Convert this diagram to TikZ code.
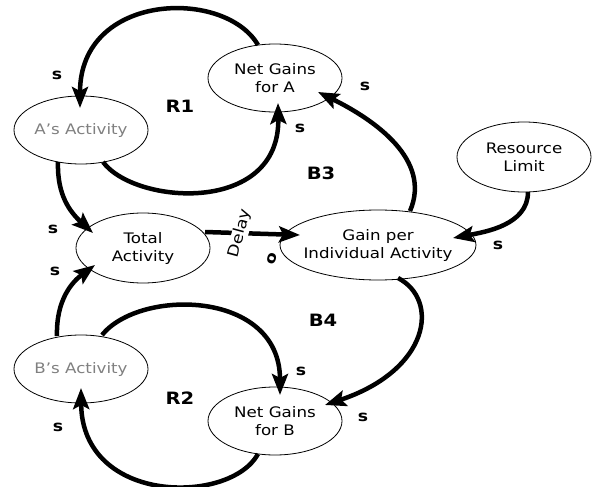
\documentclass[tikz,border=0pt]{standalone}
\usepackage{fontspec}
\setmainfont{DejaVu Sans}[FakeStretch=1.15]
\usetikzlibrary{shapes.geometric,arrows.meta,calc}
\tikzset{
  var/.style={ellipse,draw=black,line width=0.8pt,minimum width=134pt,minimum height=68pt,inner xsep=-20pt,inner ysep=0pt,align=center,font=\fontsize{14.5}{18}\selectfont},
  grayvar/.style={var,text=black!50},
  link/.style={line width=4.5pt,-{Stealth[length=21pt,width=16pt,inset=4pt]}},
  pol/.style={font=\fontsize{15}{17}\selectfont\bfseries},
  loopname/.style={font=\fontsize{17}{20}\selectfont\bfseries}
}
\begin{document}
\begin{tikzpicture}[x=1pt,y=-1pt]
\useasboundingbox (0,0) rectangle (600,487);
% nodes
\node[var] (nga) at (275,78) {Net Gains\\for A};
\node[grayvar] (aa) at (81,130) {A's Activity};
\node[var,minimum width=134pt,minimum height=70pt] (rl) at (524,157) {Resource\\Limit};
\node[var,minimum height=70pt] (ta) at (143,248) {Total\\Activity};
\node[var,minimum width=196pt,minimum height=70pt,inner xsep=-30pt] (gpi) at (378,245) {Gain per\\Individual Activity};
\node[grayvar] (ba) at (81,369) {B's Activity};
\node[var] (ngb) at (275,421) {Net Gains\\for B};
% connectors
\draw[link] ($(nga)+(-17,-33)$) .. controls (225,-12) and (80,-8) .. ($(aa)+(-1,-22)$);
\draw[link] ($(aa)+(22,32)$) .. controls (135,205) and (280,215) .. ($(nga)+(3,25)$);
\draw[link] ($(aa)+(-23,32)$) .. controls (57,195) and (70,212) .. ($(ta)+(-50,-15)$);
\draw[link] ($(ba)+(-24,-33)$) .. controls (56,300) and (72,282) .. ($(ta)+(-48,17)$);
\draw[link] ($(ta)+(62,-16)$) -- node[pos=0.37,fill=white,rotate=75,inner sep=1pt,font=\fontsize{15}{17}\selectfont] (dl) {Delay} ($(gpi)+(-78,-10)$);
\draw[link] ($(rl)+(4,35)$) .. controls (528,225) and (485,232) .. ($(gpi)+(75,-7)$);
\draw[link] ($(gpi)+(32,-34)$) .. controls (432,160) and (375,120) .. ($(nga)+(43,14)$);
\draw[link] ($(gpi)+(20,33)$) .. controls (440,300) and (430,370) .. ($(ngb)+(50,-16)$);
\draw[link] ($(ba)+(21,-34)$) .. controls (140,288) and (280,290) .. ($(ngb)+(5,-26)$);
\draw[link] ($(ngb)+(-17,33)$) .. controls (230,505) and (82,505) .. ($(ba)+(0,19)$);
% polarity labels
\node[pol] (s1) at (57,75) {s};
\node[pol] (s2) at (300,128) {s};
\node[pol] (s3) at (53,229) {s};
\node[pol] (s4) at (55,271) {s};
\node[pol,rotate=75] (o1) at (272,259) {o};
\node[pol] (s5) at (498,245) {s};
\node[pol] (s6) at (365,86) {s};
\node[pol] (s7) at (363,417) {s};
\node[pol] (s8) at (301,371) {s};
\node[pol] (s9) at (58,427) {s};
% loop names
\node[loopname] (r1) at (180,106) {R1};
\node[loopname] (b3) at (321,173) {B3};
\node[loopname] (b4) at (323,320) {B4};
\node[loopname] (r2) at (180,398) {R2};
\end{tikzpicture}
\end{document}
